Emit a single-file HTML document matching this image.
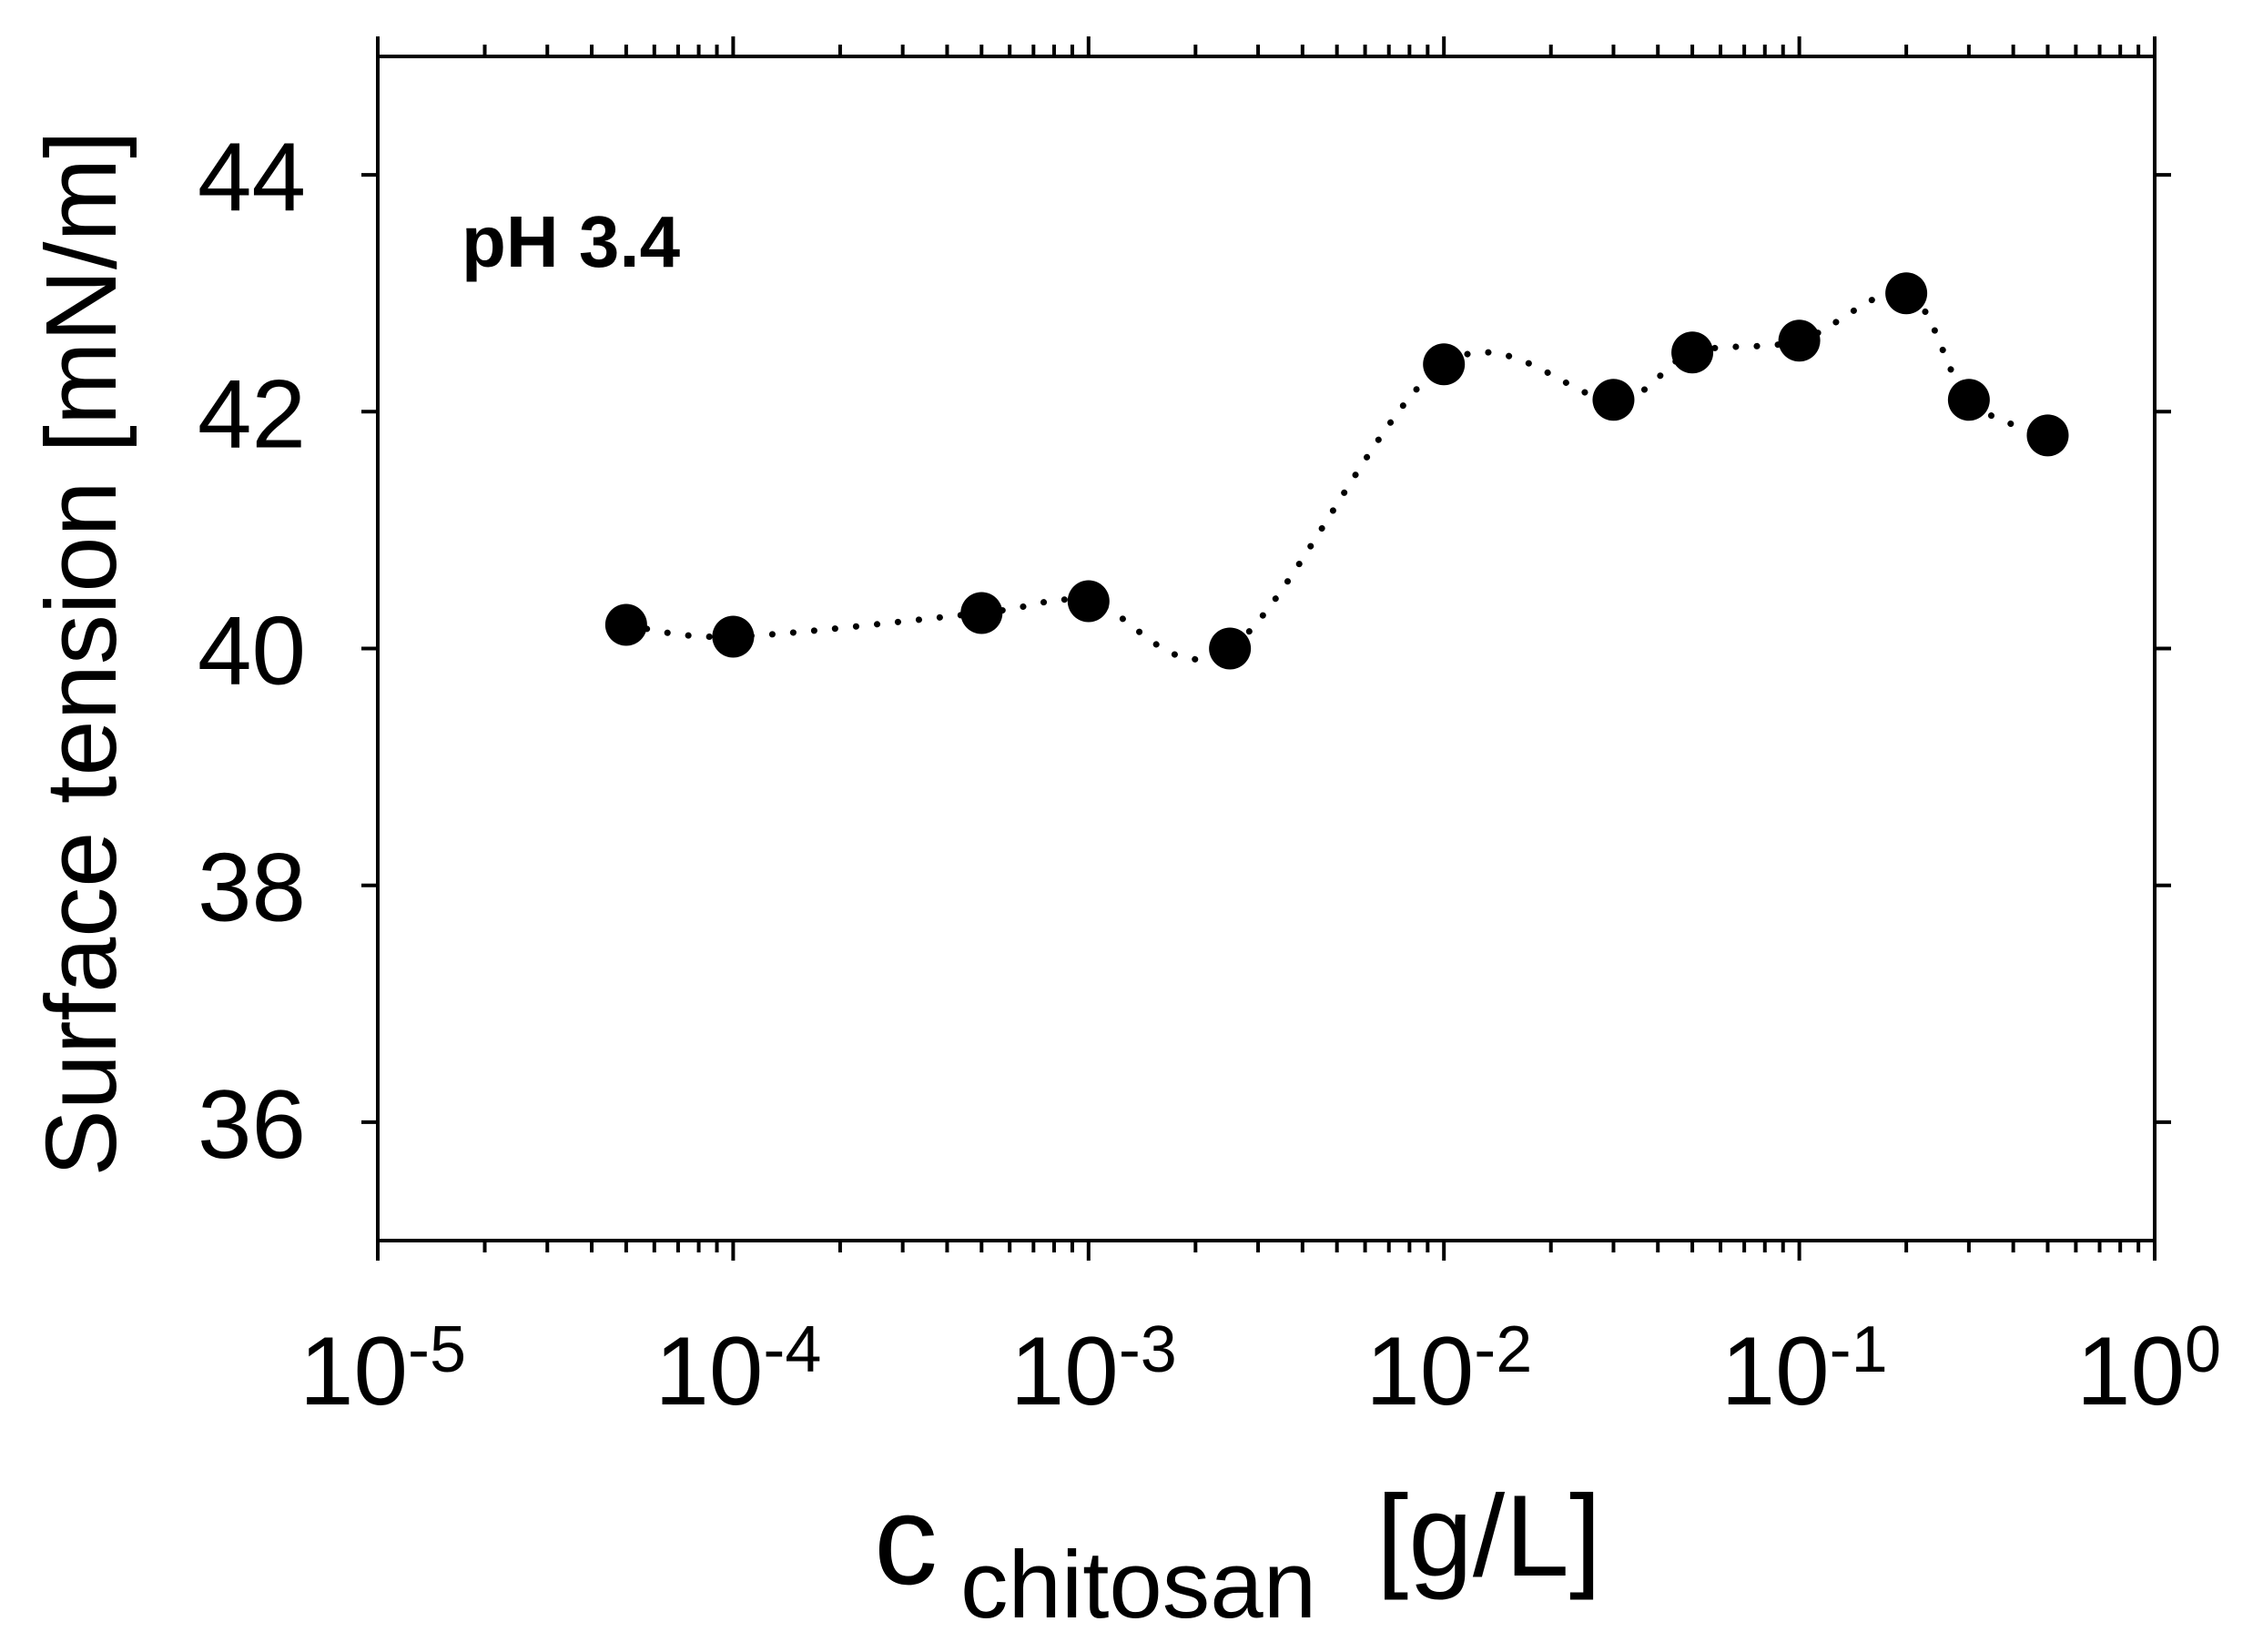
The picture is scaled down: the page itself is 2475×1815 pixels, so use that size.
<!DOCTYPE html>
<html><head><meta charset="utf-8"><style>
html,body{margin:0;padding:0;background:#fff;}
svg{display:block;font-family:"Liberation Sans",Arial,sans-serif;}
</style></head><body>
<svg id="chart" width="2475" height="1815" viewBox="0 0 2475 1815" xmlns="http://www.w3.org/2000/svg">
<rect x="0" y="0" width="2475" height="1815" fill="#fff"/>
<g id="ticks"></g>
<rect x="415" y="62" width="1952" height="1301" fill="none" stroke="#000" stroke-width="4"/>
<g id="ylabels"></g>
<g id="xlabels"></g>
<path id="curve" d="" fill="none" stroke="#000" stroke-width="7" stroke-dasharray="0.1 23" stroke-linecap="round"/>
<g id="points"></g>
<text x="507" y="293" font-size="80" font-weight="bold">pH 3.4</text>
<text transform="translate(127,718) rotate(-90)" text-anchor="middle" font-size="110">Surface tension [mN/m]</text>
<g>
<text x="960" y="1740" font-size="140">c</text>
<text x="1055" y="1777" font-size="105">chitosan</text>
<text x="1512" y="1731" font-size="127">[g/L]</text>
</g>
</svg>
<script>
const concentrations = [5e-5, 1e-4, 5e-4, 1e-3, 2.5e-3, 1e-2, 3e-2, 5e-2, 1e-1, 2e-1, 3e-1, 5e-1];
const tensions = [40.2, 40.1, 40.3, 40.4, 40.0, 42.4, 42.1, 42.5, 42.6, 43.0, 42.1, 41.8];
const yTicks = [36, 38, 40, 42, 44];
const xDecades = [-5, -4, -3, -2, -1, 0];

const X0 = 415, X1 = 2367, Y0 = 1363, Y1 = 62;
const LMIN = -5, LMAX = 0, YMIN = 35, YMAX = 45;
function xs(v){ return X0 + (Math.log10(v) - LMIN) / (LMAX - LMIN) * (X1 - X0); }
function ys(v){ return Y0 - (v - YMIN) / (YMAX - YMIN) * (Y0 - Y1); }
const NS = "http://www.w3.org/2000/svg";
function mk(tag, attrs){ const e = document.createElementNS(NS, tag); for (const k in attrs) e.setAttribute(k, attrs[k]); return e; }

const ticks = document.getElementById('ticks');
// y ticks left and right (outward)
yTicks.forEach(t => {
  const y = ys(t);
  const l = mk('line', {x1: X0 - 18, x2: X0, y1: y, y2: y, stroke: '#000', 'stroke-width': 4});
  
  
  ticks.appendChild(l);
  const r = mk('line', {x1: X1, x2: X1 + 18, y1: y, y2: y, stroke: '#000', 'stroke-width': 4});
  
  
  ticks.appendChild(r);
});
// x ticks top and bottom (outward)
for (let d = LMIN; d <= LMAX; d++) {
  for (let m = 1; m <= 9; m++) {
    if (d === LMAX && m > 1) break;
    const x = xs(m * Math.pow(10, d));
    const len = m === 1 ? 22 : 13;
    const b = mk('line', {x1: x, x2: x, y1: Y0, y2: Y0 + len, stroke: '#000', 'stroke-width': 4});
    
    
    ticks.appendChild(b);
    const t = mk('line', {x1: x, x2: x, y1: Y1 - len, y2: Y1, stroke: '#000', 'stroke-width': 4});
    
    
    ticks.appendChild(t);
  }
}
// y labels
const yl = document.getElementById('ylabels');
yTicks.forEach(t => {
  const e = mk('text', {x: 336, y: ys(t) + 39, 'text-anchor': 'end', 'font-size': 107});
  e.textContent = String(t);
  
  
  yl.appendChild(e);
});
// x labels
const xl = document.getElementById('xlabels');
xDecades.forEach(d => {
  const x = xs(Math.pow(10, d));
  const e = mk('text', {x: x - 86, y: 1543, 'font-size': 107});
  e.textContent = '10';
  const s = mk('tspan', {dy: -36, 'font-size': 72});
  s.textContent = String(d);
  e.appendChild(s);
  
  
  xl.appendChild(e);
});
// smooth curve (Catmull-Rom)
const P = concentrations.map((c, i) => [xs(c), ys(tensions[i])]);
let d = 'M' + P[0][0] + ' ' + P[0][1];
for (let i = 0; i < P.length - 1; i++) {
  const p0 = P[Math.max(0, i - 1)], p1 = P[i], p2 = P[i + 1], p3 = P[Math.min(P.length - 1, i + 2)];
  const c1 = [p1[0] + (p2[0] - p0[0]) / 6, p1[1] + (p2[1] - p0[1]) / 6];
  const c2 = [p2[0] - (p3[0] - p1[0]) / 6, p2[1] - (p3[1] - p1[1]) / 6];
  d += ' C' + c1[0] + ' ' + c1[1] + ' ' + c2[0] + ' ' + c2[1] + ' ' + p2[0] + ' ' + p2[1];
}
document.getElementById('curve').setAttribute('d', d);
// points
const pts = document.getElementById('points');
P.forEach(p => {
  const c = mk('circle', {cx: p[0], cy: p[1], r: 23, fill: '#000'});
  
  
  pts.appendChild(c);
});
</script>
</body></html>
